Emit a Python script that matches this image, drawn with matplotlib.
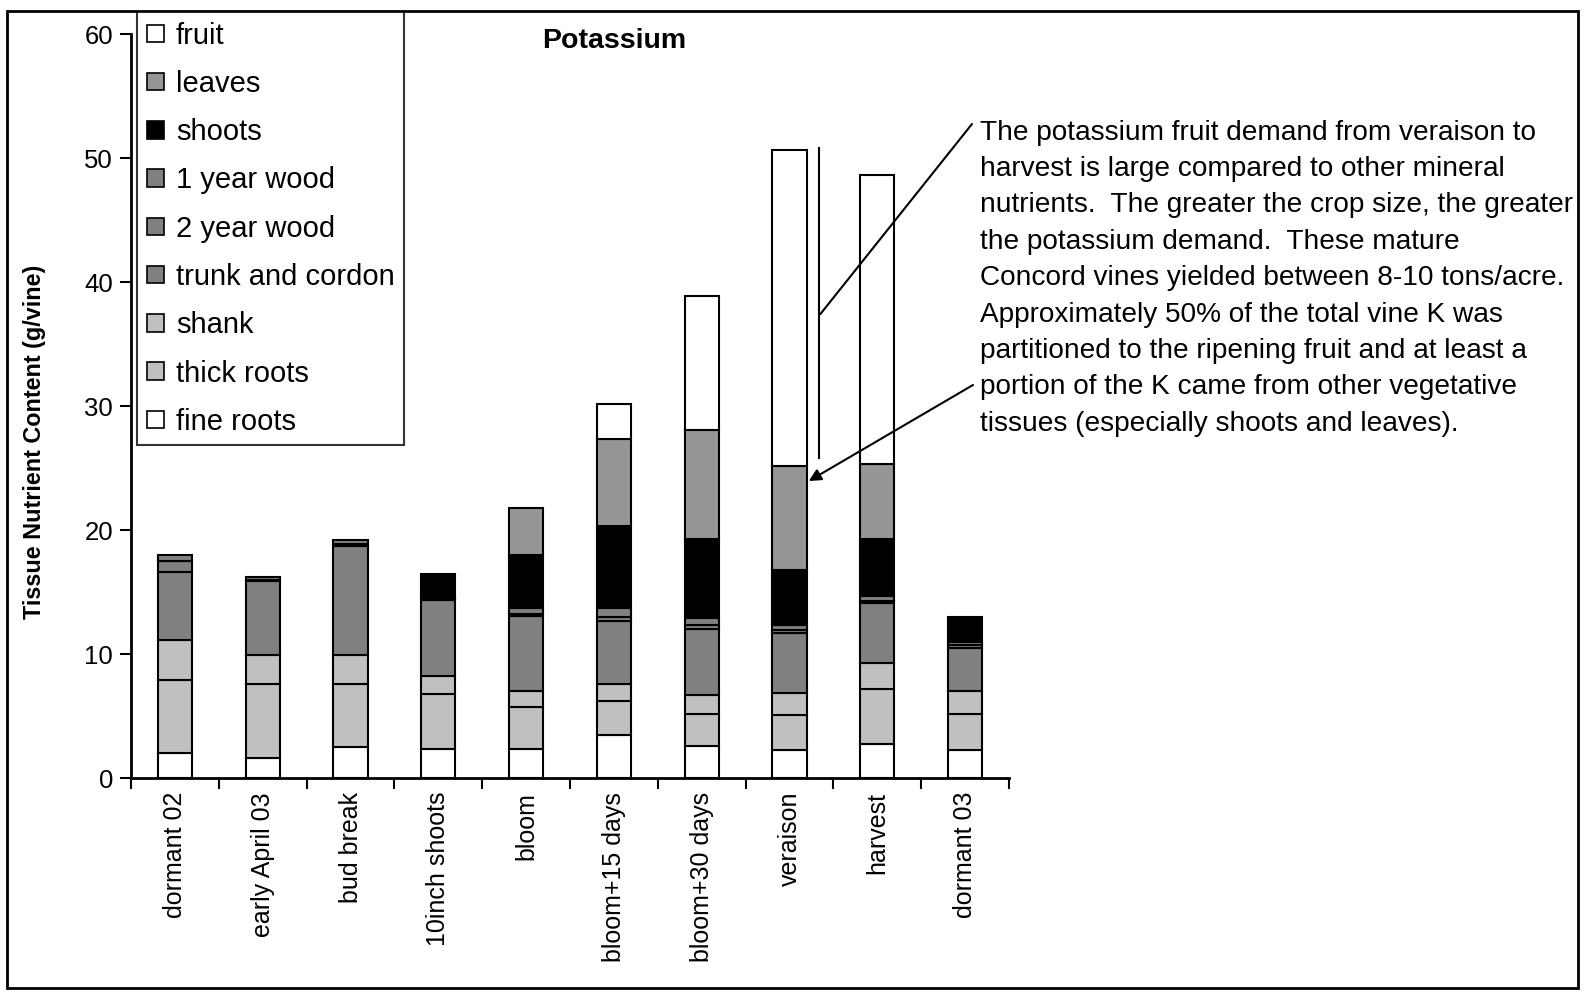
import matplotlib
matplotlib.use("Agg")
import matplotlib.pyplot as plt
from matplotlib.patches import Patch, Rectangle
import numpy as np

plt.rcParams['font.family'] = ['Liberation Sans', 'DejaVu Sans']

# Sampling dates
categories = ['dormant 02', 'early April 03', 'bud break', '10inch shoots', 'bloom',
              'bloom+15 days', 'bloom+30 days', 'veraison', 'harvest', 'dormant 03']

# K content per tissue (g/vine), stacked bottom to top
fine_roots = [2.0, 1.6, 2.5, 2.35, 2.35, 3.45, 2.55, 2.25, 2.75, 2.25]
thick_roots = [5.9, 5.95, 5.05, 4.45, 3.35, 2.8, 2.65, 2.8, 4.45, 2.95]
shank = [3.2, 2.4, 2.4, 1.45, 1.3, 1.3, 1.5, 1.8, 2.1, 1.8]
trunk_cordon = [5.5, 5.9, 8.75, 6.1, 6.1, 5.1, 5.35, 4.85, 4.8, 3.5]
two_year_wood = [0.9, 0.1, 0.2, 0.2, 0.15, 0.35, 0.25, 0.2, 0.15, 0.25]
one_year_wood = [0.45, 0.3, 0.3, 0.15, 0.45, 0.7, 0.6, 0.4, 0.45, 0.25]
shoots = [0.0, 0.0, 0.0, 1.75, 4.3, 6.65, 6.4, 4.45, 4.6, 2.0]
leaves = [0.0, 0.0, 0.0, 0.0, 3.8, 7.0, 8.8, 8.4, 6.05, 0.0]
fruit = [0.0, 0.0, 0.0, 0.0, 0.0, 2.8, 10.8, 25.5, 23.3, 0.0]

series = [
    ('fine roots', fine_roots, '#ffffff'),
    ('thick roots', thick_roots, '#c0c0c0'),
    ('shank', shank, '#c0c0c0'),
    ('trunk and cordon', trunk_cordon, '#808080'),
    ('2 year wood', two_year_wood, '#808080'),
    ('1 year wood', one_year_wood, '#808080'),
    ('shoots', shoots, '#000000'),
    ('leaves', leaves, '#969696'),
    ('fruit', fruit, '#ffffff'),
]

note_lines = [
    "The potassium fruit demand from veraison to",
    "harvest is large compared to other mineral",
    "nutrients.  The greater the crop size, the greater",
    "the potassium demand.  These mature",
    "Concord vines yielded between 8-10 tons/acre.",
    "Approximately 50% of the total vine K was",
    "partitioned to the ripening fruit and at least a",
    "portion of the K came from other vegetative",
    "tissues (especially shoots and leaves).",
]

W, H = 1585, 994
fig = plt.figure(figsize=(W / 100, H / 100), dpi=100)


def fx(px):
    return px / W


def fy(py):
    return 1 - py / H


ax = fig.add_axes([fx(131), fy(778), fx(1009) - fx(131), fy(34) - fy(778)])

x = np.arange(len(categories))
bottom = np.zeros(len(categories))
handles = []
for name, vals, color in series:
    vals = np.array(vals, dtype=float)
    mask = vals > 0
    ax.bar(x[mask], vals[mask], bottom=bottom[mask], width=0.39, color=color,
           edgecolor='black', linewidth=1.5, zorder=2)
    bottom += vals
    handles.append(Patch(facecolor=color, edgecolor='black', linewidth=1.2, label=name))

ax.set_xlim(-0.5, len(categories) - 0.5)
ax.set_ylim(0, 60)
ax.set_yticks(np.arange(0, 61, 10))
ax.tick_params(axis='y', labelsize=18.5, length=8, width=1.5, direction='out', pad=5)
ax.set_xticks(np.arange(-0.5, len(categories), 1.0))
ax.set_xticklabels([])
ax.set_xticks(x, minor=True)
ax.set_xticklabels(categories, minor=True, rotation=90, fontsize=18, va='top')
ax.tick_params(axis='x', which='major', length=8, width=1.5, direction='out')
ax.tick_params(axis='x', which='minor', length=0, pad=10)
for s in ['top', 'right']:
    ax.spines[s].set_visible(False)
for s in ['left', 'bottom']:
    ax.spines[s].set_linewidth(2)

fig.text(fx(35), fy(442), 'Tissue Nutrient Content (g/vine)', rotation=90,
         fontsize=16.8, fontweight='bold', ha='center', va='center')
fig.text(fx(614), fy(41), 'Potassium', fontsize=20.5, fontweight='bold',
         ha='center', va='center')

leg = fig.legend(handles=handles[::-1], loc='upper left',
                 bbox_to_anchor=(fx(137), fy(12)), fontsize=21.0,
                 frameon=True, fancybox=False, edgecolor='black',
                 handlelength=0.6, handleheight=0.55, handletextpad=0.4,
                 labelspacing=0.695, borderpad=0.33, borderaxespad=0)
leg.get_frame().set_linewidth(1.5)

# Note text, one line at a time
for i, line in enumerate(note_lines):
    fig.text(fx(980), fy(132.5 + 36.4 * i), line, fontsize=20.2,
             ha='left', va='center')

# Bracket along the veraison fruit segment and callout lines
ax.plot([7.336, 7.336], [25.8, 50.8], color='black', lw=1.5, zorder=3)
ax.annotate('', xy=(7.35, 37.4), xytext=(fx(972), fy(124)),
            textcoords='figure fraction',
            arrowprops=dict(arrowstyle='-', lw=1.5, color='black',
                            shrinkA=0, shrinkB=0))
ax.annotate('', xy=(7.22, 23.95), xytext=(fx(973), fy(385)),
            textcoords='figure fraction',
            arrowprops=dict(arrowstyle='-|>', lw=1.5, color='black',
                            mutation_scale=18, shrinkA=0, shrinkB=0))

fig.patches.append(Rectangle((fx(7), fy(988)), fx(1578) - fx(7), fy(11) - fy(988),
                             transform=fig.transFigure, fill=False,
                             lw=2, ec='black'))

fig.savefig('out.png', dpi=100)
